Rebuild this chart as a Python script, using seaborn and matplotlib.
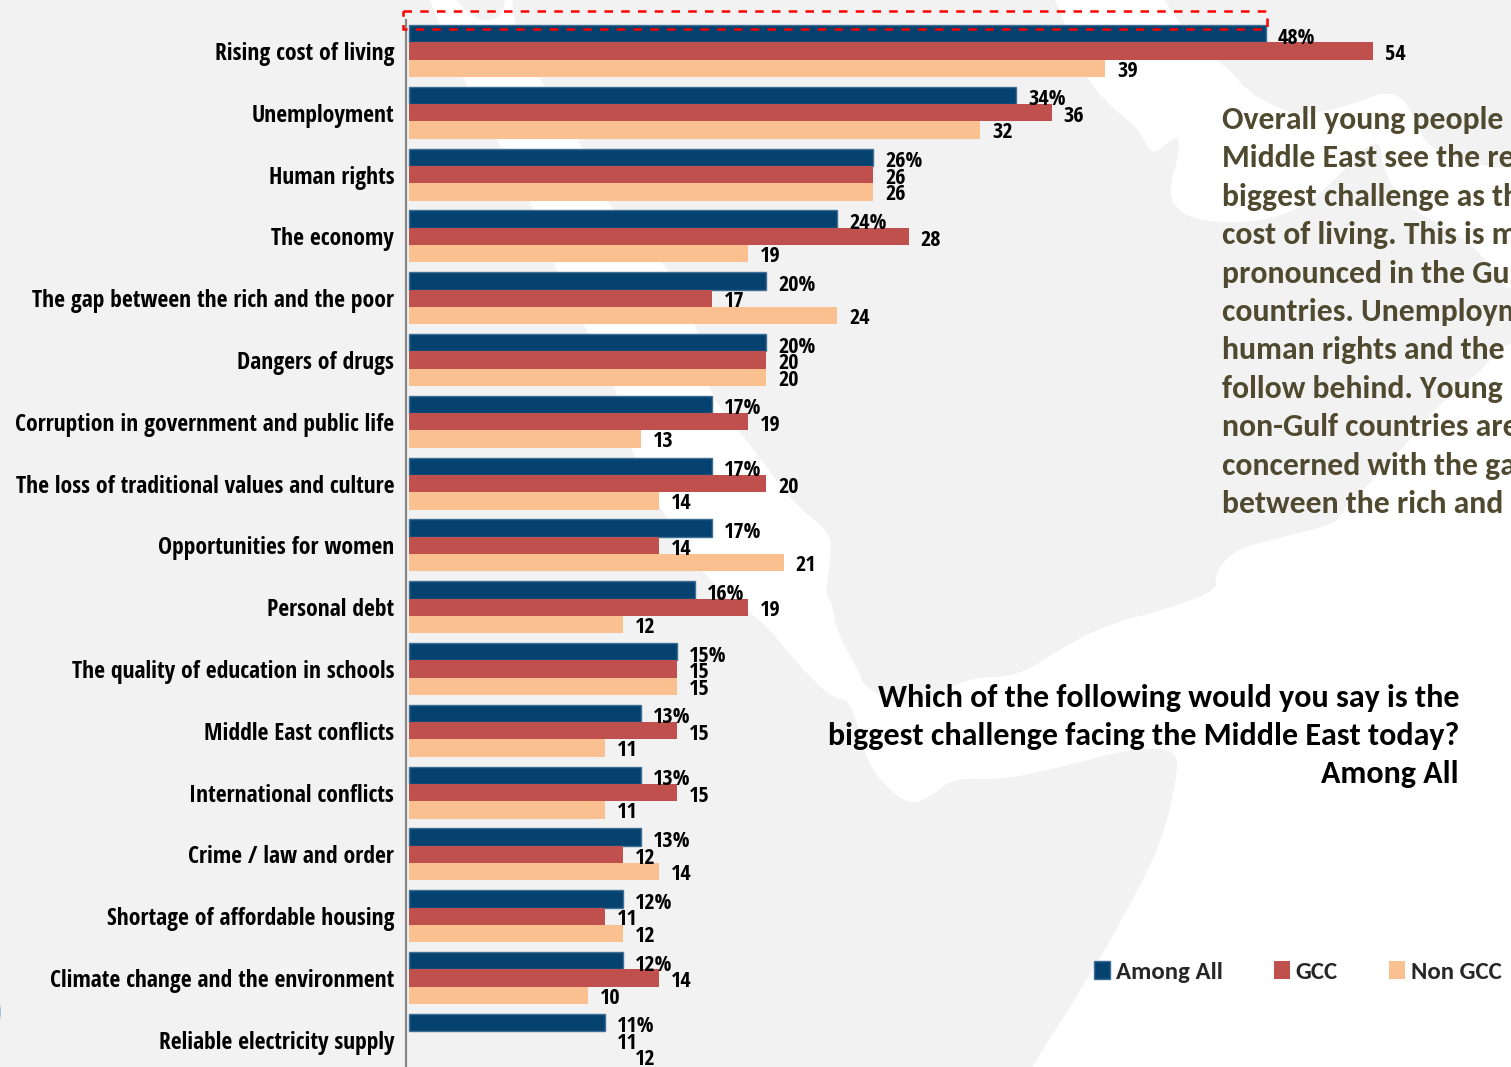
import matplotlib
matplotlib.use("Agg")
import matplotlib.pyplot as plt
from matplotlib.patches import Polygon, Rectangle, Ellipse
import numpy as np
import pandas as pd
import seaborn as sns

# Survey results, percent of respondents
challenges = [
    "Rising cost of living", "Unemployment", "Human rights", "The economy",
    "The gap between the rich and the poor", "Dangers of drugs",
    "Corruption in government and public life",
    "The loss of traditional values and culture", "Opportunities for women",
    "Personal debt", "The quality of education in schools",
    "Middle East conflicts", "International conflicts", "Crime / law and order",
    "Shortage of affordable housing", "Climate change and the environment",
    "Reliable electricity supply",
]
among_all = [48, 34, 26, 24, 20, 20, 17, 17, 17, 16, 15, 13, 13, 13, 12, 12, 11]
gcc = [54, 36, 26, 28, 17, 20, 19, 20, 14, 19, 15, 15, 15, 12, 11, 14, 11]
non_gcc = [39, 32, 26, 19, 24, 20, 13, 14, 21, 12, 15, 11, 11, 14, 12, 10, 12]
groups = ["Among All", "GCC", "Non GCC"]
colors = ["#06426f", "#c0504d", "#fac090"]

commentary = [
    "Overall young people", "Middle East see the re", "biggest challenge as th",
    "cost of living. This is m", "pronounced in the Gu", "countries. Unemploym",
    "human rights and the", "follow behind. Young", "non-Gulf countries are",
    "concerned with the ga", "between the rich and",
]
question = [
    "Which of the following would you say is the",
    "biggest challenge facing the Middle East today?",
    "Among All",
]

# Outline of the pale map behind the chart, in pixels
sea_west = [
    (1800, 333), (1511, 333), (1483, 370), (1440, 403), (1410, 440), (1370, 483),
    (1340, 513), (1337, 523), (1283, 537), (1233, 550), (1214, 575), (1218, 590),
    (1167, 609), (1109, 624), (1065, 646), (1017, 677), (968, 677), (905, 711),
    (862, 684), (862, 677), (837, 633), (832, 602), (825, 595), (832, 550),
    (828, 530), (793, 503), (753, 448), (705, 390), (700, 331), (667, 264),
    (603, 202), (580, 140), (538, 78), (512, 20), (513, -30), (505, -30),
    (505, 20), (470, 20), (435, -30), (417, -30), (462, 78),
    (497, 140), (532, 202), (553, 264), (587, 331), (618, 390), (627, 448),
    (698, 574), (763, 622), (783, 646), (810, 677), (833, 698), (852, 701),
    (866, 763), (896, 797), (915, 804), (934, 794), (954, 778), (1002, 780),
    (1065, 766), (1129, 749), (1177, 749), (1177, 777), (1163, 838), (1133, 900),
    (1090, 975), (1032, 1067), (1000, 1120), (900, 1400), (1800, 1400),
]
sea_east = [
    (1040, -30), (1056, 0), (1085, 79), (1119, 114), (1140, 130), (1152, 158),
    (1177, 133), (1180, 150), (1170, 185), (1172, 203), (1187, 217), (1220, 223),
    (1270, 220), (1310, 203), (1337, 177), (1380, 133), (1383, 173), (1410, 210),
    (1453, 230), (1487, 260), (1500, 280), (1511, 293), (1800, 300), (1800, 178),
    (1511, 170), (1470, 163), (1427, 147), (1417, 123), (1403, 97), (1383, 92),
    (1357, 103), (1303, 117), (1267, 103), (1247, 90), (1230, 70), (1213, 58),
    (1193, 40), (1163, 0), (1150, -30),
]

FIG_W, FIG_H = 1511, 1067
PX_PER_UNIT = 17.85
ZERO_PX = 409
SPINE_PX = 406
PANEL_TOP = 20
ROW_PX = 61.8
FIRST_ROW_PX = 51

sns.set_theme(style="white")
CONDENSED = ["Open Sans Condensed", "Roboto Condensed", "DejaVu Sans"]
HUMANIST = ["Carlito", "Lato", "DejaVu Sans"]
plt.rcParams["font.family"] = CONDENSED
plt.rcParams["font.weight"] = "bold"

fig = plt.figure(figsize=(FIG_W / 100, FIG_H / 100), dpi=100, facecolor="#f2f2f2")


def pixel_axes(zorder):
    pane = fig.add_axes([0, 0, 1, 1], zorder=zorder)
    pane.set_xlim(0, FIG_W)
    pane.set_ylim(FIG_H, 0)
    pane.axis("off")
    return pane


def soften(points, rounds=3):
    pts = np.asarray(points, dtype=float)
    for _ in range(rounds):
        following = np.roll(pts, -1, axis=0)
        pts = np.column_stack([0.75 * pts + 0.25 * following,
                               0.25 * pts + 0.75 * following]).reshape(-1, 2)
    return pts


back = pixel_axes(0)
for outline in (sea_west, sea_east):
    back.add_patch(Polygon(soften(outline), closed=True, fc="white", ec="none"))
back.add_patch(Ellipse((-3, 1012), 8, 24, fc="#9cc3dc", ec="none"))

for i, line in enumerate(commentary):
    back.text(1222, 129 + 38.4 * i, line, color="#4f4a2f", fontsize=22.9,
              fontweight="bold", family=HUMANIST, va="baseline", ha="left")
for i, line in enumerate(question):
    back.text(1459, 707 + 38.2 * i, line, color="black", fontsize=23,
              fontweight="bold", family=HUMANIST, va="baseline", ha="right")

# Chart panel: the axis starts just left of zero and runs off the bottom edge
ax = fig.add_axes([SPINE_PX / FIG_W, 0, (FIG_W - SPINE_PX) / FIG_W, (FIG_H - PANEL_TOP) / FIG_H],
                  zorder=1)
ax.patch.set_alpha(0)

table = pd.DataFrame({
    "challenge": challenges * 3,
    "group": np.repeat(groups, len(challenges)),
    "share": among_all + gcc + non_gcc,
})
sns.barplot(data=table, y="challenge", x="share", hue="group", order=challenges,
            hue_order=groups, palette=colors, saturation=1, width=0.84, gap=0,
            dodge=True, legend=False, linewidth=0, edgecolor="none", ax=ax)

ax.set_xlim((SPINE_PX - ZERO_PX) / PX_PER_UNIT, (FIG_W - ZERO_PX) / PX_PER_UNIT)
ax.set_ylim((FIG_H - FIRST_ROW_PX) / ROW_PX, (PANEL_TOP - FIRST_ROW_PX) / ROW_PX)
ax.set_xlabel("")
ax.set_ylabel("")
ax.xaxis.set_visible(False)
sns.despine(ax=ax, top=True, right=True, bottom=True)
ax.spines["left"].set_color("#868686")
ax.spines["left"].set_linewidth(1.6)

ax.tick_params(axis="y", which="major", length=0, pad=8.5, labelsize=17, labelcolor="black")
ax.set_yticks(np.arange(len(challenges)) - 0.5, minor=True)
ax.tick_params(axis="y", which="minor", length=4, width=1.2, color="#868686")

series_styles = zip(ax.containers, (among_all, gcc, non_gcc), ("%", "", ""), (-3.2, -2.7, -2.0))
for container, series, suffix, drop in series_styles:
    for bar, value in zip(container.patches, series):
        ax.annotate(f"{value}{suffix}", (value, bar.get_y() + bar.get_height() / 2),
                    xytext=(8.6, drop), textcoords="offset points", va="center", ha="left",
                    fontsize=16, color="black", zorder=6, annotation_clip=False)

# The electricity row carries a bar for the overall figure only
for container in ax.containers[1:]:
    container.patches[-1].set_visible(False)

for bar in ax.containers[0].patches:
    bar.set_edgecolor("#3f6f94")
    bar.set_linewidth(1.0)

legend = ax.legend(handles=[c.patches[0] for c in ax.containers], labels=groups,
                   ncol=3, frameon=False, loc="center left",
                   bbox_to_anchor=(1094 / FIG_W, 1 - 972 / FIG_H),
                   bbox_transform=fig.transFigure, borderpad=0, borderaxespad=0,
                   handlelength=0.66, handleheight=0.72, handletextpad=0.22,
                   columnspacing=2.05, prop={"family": HUMANIST, "weight": "bold", "size": 17.9})

# Dashed highlight across the top of the chart
front = pixel_axes(2)
front.add_patch(Rectangle((403, 11), 864, 18, fill=False, ec="#ff0000", lw=1.8,
                          ls=(0, (3.4, 3.3))))

fig.savefig("out.png", dpi=100, facecolor=fig.get_facecolor())
